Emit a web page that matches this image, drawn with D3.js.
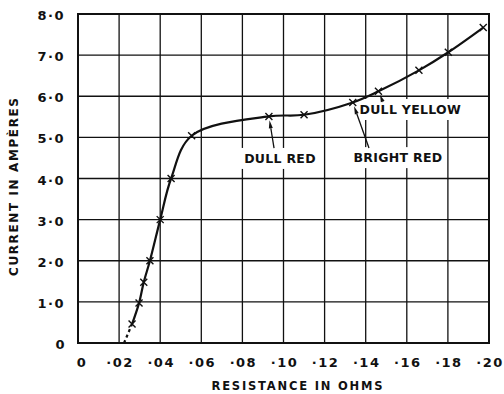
<!DOCTYPE html>
<html>
<head>
<meta charset="utf-8">
<script src="https://cdn.jsdelivr.net/npm/d3@7"></script>
<style>
  html, body { margin: 0; padding: 0; background: #fff; }
  svg { display: block; }
  text { font-family: "DejaVu Sans", "Liberation Sans", sans-serif; font-weight: bold; fill: #111; }
</style>
</head>
<body>
<svg id="chart" width="504" height="394"></svg>
<script>
// Resistance (ohms) and current (amperes) at the measured points
const resistance = [0.0263, 0.0297, 0.0320, 0.0350, 0.0400, 0.0453, 0.0553, 0.0929, 0.1100, 0.1337, 0.1462, 0.1659, 0.1802, 0.1972];
const current    = [0.46,   0.97,   1.48,   2.00,   3.00,   4.00,   5.04,   5.51,   5.55,   5.85,   6.12,   6.63,   7.07,   7.67];

// Extrapolated start of the curve down to zero current
const extrapResistance = [0.0224, 0.0263];
const extrapCurrent    = [0.00,   0.46];

// Tick values and labels
const xTicks = [0, 0.02, 0.04, 0.06, 0.08, 0.10, 0.12, 0.14, 0.16, 0.18, 0.20];
const xTickLabels = ["0", "·02", "·04", "·06", "·08", "·10", "·12", "·14", "·16", "·18", "·20"];
const yTicks = [0, 1, 2, 3, 4, 5, 6, 7, 8];
const yTickLabels = ["0", "1·0", "2·0", "3·0", "4·0", "5·0", "6·0", "7·0", "8·0"];

// Colour annotations: label text, label centre, arrow tail, index of the point
const noteLabels = ["DULL RED", "BRIGHT RED", "DULL YELLOW"];
const noteLabelX = [0.0983, 0.1557, 0.1617];
const noteLabelY = [4.50, 4.52, 5.69];
const noteTailX  = [0.0954, 0.1416, 0.1484];
const noteTailY  = [4.74, 4.74, 5.86];
const notePoint  = [7, 9, 10];

const svg = d3.select("#chart");
const x = d3.scaleLinear().domain([0, 0.2]).range([78, 489]);
const y = d3.scaleLinear().domain([0, 8]).range([343, 14]);

const ink = "#111";

// Grid
const grid = svg.append("g");
grid.selectAll("line.v").data(xTicks.slice(1, -1)).join("line")
  .attr("x1", d => x(d)).attr("x2", d => x(d))
  .attr("y1", y(0)).attr("y2", y(8))
  .attr("stroke", ink).attr("stroke-width", 1.3);
grid.selectAll("line.h").data(yTicks.slice(1, -1)).join("line")
  .attr("x1", x(0)).attr("x2", x(0.2))
  .attr("y1", d => y(d)).attr("y2", d => y(d))
  .attr("stroke", ink).attr("stroke-width", 1.3);

// Frame
svg.append("rect")
  .attr("x", x(0)).attr("y", y(8))
  .attr("width", x(0.2) - x(0)).attr("height", y(0) - y(8))
  .attr("fill", "none").attr("stroke", ink).attr("stroke-width", 2);

// Tick labels
svg.append("g").selectAll("text").data(xTicks).join("text")
  .attr("x", d => x(d) + (d === 0 ? 4 : 1))
  .attr("y", 367)
  .attr("text-anchor", "middle")
  .attr("font-size", 13)
  .attr("letter-spacing", 1.5)
  .text((d, i) => xTickLabels[i]);

svg.append("g").selectAll("text").data(yTicks).join("text")
  .attr("x", d => d === 0 ? 66 : 65)
  .attr("y", d => y(d) + 6)
  .attr("text-anchor", "end")
  .attr("font-size", 13)
  .attr("letter-spacing", 1.5)
  .text((d, i) => yTickLabels[i]);

// Axis titles
svg.append("text")
  .attr("x", 297).attr("y", 390)
  .attr("text-anchor", "middle")
  .attr("font-size", 11.5)
  .attr("textLength", 171).attr("lengthAdjust", "spacing")
  .text("RESISTANCE IN OHMS");

svg.append("text")
  .attr("transform", "translate(18,187) rotate(-90)")
  .attr("text-anchor", "middle")
  .attr("font-size", 12)
  .attr("textLength", 178).attr("lengthAdjust", "spacing")
  .text("CURRENT IN AMPÈRES");

// Annotation label backgrounds (they break the grid lines)
const notes = noteLabels.map((t, i) => ({
  text: t, lx: x(noteLabelX[i]), ly: y(noteLabelY[i]),
  tx: x(noteTailX[i]), ty: y(noteTailY[i]),
  px: x(resistance[notePoint[i]]), py: y(current[notePoint[i]])
}));

const noteG = svg.append("g");
const noteText = noteG.selectAll("text").data(notes).join("text")
  .attr("x", d => d.lx).attr("y", d => d.ly + 5)
  .attr("text-anchor", "middle")
  .attr("font-size", 12.5)
  .attr("letter-spacing", 0.3)
  .text(d => d.text);
noteText.each(function(d) {
  d.bbox = this.getBBox();
});
noteG.selectAll("rect").data(notes).join("rect")
  .attr("x", d => d.bbox.x - 4).attr("y", d => d.bbox.y - 3)
  .attr("width", d => d.bbox.width + 8).attr("height", d => d.bbox.height + 6)
  .attr("fill", "#fff").lower();

// Curve
const pts = resistance.map((r, i) => [r, current[i]]);
const line = d3.line().x(d => x(d[0])).y(d => y(d[1])).curve(d3.curveCatmullRom.alpha(0.5));
svg.append("path").attr("d", line(pts))
  .attr("fill", "none").attr("stroke", ink).attr("stroke-width", 2.2);

svg.append("path")
  .attr("d", d3.line().x(d => x(d[0])).y(d => y(d[1]))(extrapResistance.map((r, i) => [r, extrapCurrent[i]])))
  .attr("fill", "none").attr("stroke", ink).attr("stroke-width", 2.2)
  .attr("stroke-dasharray", "3,3");

// Point markers
const s = 3.5;
svg.append("g").selectAll("path").data(pts).join("path")
  .attr("d", d => {
    const cx = x(d[0]), cy = y(d[1]);
    return `M${cx - s},${cy - s}L${cx + s},${cy + s}M${cx - s},${cy + s}L${cx + s},${cy - s}`;
  })
  .attr("stroke", ink).attr("stroke-width", 1.4).attr("fill", "none");

// Arrows from labels to points
const arrows = svg.append("g");
notes.forEach(d => {
  const dx = d.px - d.tx, dy = d.py - d.ty;
  const len = Math.hypot(dx, dy);
  const ux = dx / len, uy = dy / len;
  const gap = 4;
  const hx = d.px - ux * gap, hy = d.py - uy * gap;
  const headLen = Math.min(8, len * 0.6), hw = 2;
  const bx = hx - ux * headLen, by = hy - uy * headLen;
  arrows.append("line")
    .attr("x1", d.tx).attr("y1", d.ty).attr("x2", bx).attr("y2", by)
    .attr("stroke", ink).attr("stroke-width", 1.3);
  arrows.append("path")
    .attr("d", `M${hx},${hy}L${bx - uy * hw},${by + ux * hw}L${bx + uy * hw},${by - ux * hw}Z`)
    .attr("fill", ink);
});
</script>
</body>
</html>
